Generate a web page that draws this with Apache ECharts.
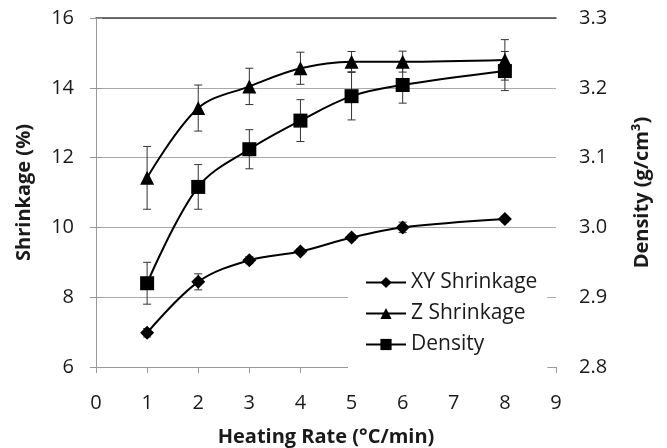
<!DOCTYPE html>
<html>
<head>
<meta charset="utf-8">
<script src="https://cdn.jsdelivr.net/npm/echarts@6/dist/echarts.min.js"></script>
<style>
  html, body { margin: 0; padding: 0; background: #fff; }
  #chart-container { width: 667px; height: 448px; }
</style>
</head>
<body>
<div id="chart-container"></div>
<script>
// heating rate (°C/min)
var rates = [1, 2, 3, 4, 5, 6, 8];
// shrinkage (%) and error bars
var xyShrink = [6.98, 8.44, 9.06, 9.31, 9.71, 10.0, 10.24];
var xyErr = [0.12, 0.23, 0.1, 0.08, 0.08, 0.15, 0.08];
var zShrink = [11.42, 13.42, 14.04, 14.56, 14.75, 14.75, 14.8];
var zErr = [0.9, 0.66, 0.52, 0.46, 0.29, 0.3, 0.58];
// density (g/cm3) and error bars
var density = [2.92, 3.058, 3.112, 3.153, 3.188, 3.204, 3.224];
var densityErr = [0.03, 0.032, 0.028, 0.03, 0.034, 0.026, 0.028];

var leftTicks = { min: 6, max: 16, interval: 2 };
var rightTicks = { min: 2.8, max: 3.3, interval: 0.1 };

var font = "'Open Sans', 'DejaVu Sans', sans-serif";

function pairs(vals) {
  return rates.map(function (x, i) { return [x, vals[i]]; });
}
function errData(vals, errs) {
  return rates.map(function (x, i) { return [x, vals[i], errs[i]]; });
}

function renderErr(params, api) {
  var x = api.value(0), v = api.value(1), e = api.value(2);
  var top = api.coord([x, v + e]);
  var bot = api.coord([x, v - e]);
  var cap = 4;
  var style = { stroke: '#333', lineWidth: 1 };
  return {
    type: 'group',
    children: [
      { type: 'line', shape: { x1: top[0], y1: top[1], x2: bot[0], y2: bot[1] }, style: style },
      { type: 'line', shape: { x1: top[0] - cap, y1: top[1], x2: top[0] + cap, y2: top[1] }, style: style },
      { type: 'line', shape: { x1: bot[0] - cap, y1: bot[1], x2: bot[0] + cap, y2: bot[1] }, style: style }
    ]
  };
}

var dom = document.getElementById('chart-container');
var myChart = echarts.init(dom, null, { renderer: 'canvas' });

var tickLabel = { fontSize: 20, color: '#1a1a1a', fontFamily: font };
var nameStyle = { fontSize: 20, fontWeight: 'bold', color: '#1a1a1a', fontFamily: font };

var option = {
  animation: false,
  backgroundColor: '#fff',
  textStyle: { fontFamily: font },
  grid: { left: 96, right: 111, top: 18, bottom: 81, outerBoundsMode: 'none' },
  legend: {
    data: ['XY Shrinkage', 'Z Shrinkage', 'Density'],
    orient: 'vertical',
    left: 348,
    top: 268,
    width: 205,
    backgroundColor: '#fff',
    padding: [4, 10, 20, 17],
    itemWidth: 40,
    itemHeight: 14,
    itemGap: 10,
    textStyle: { fontSize: 21, color: '#1a1a1a', fontFamily: font }
  },
  xAxis: [
    {
      type: 'value',
      min: 0,
      max: 9,
      interval: 1,
      name: 'Heating Rate (°C/min)',
      nameLocation: 'middle',
      nameGap: 60,
      nameTextStyle: nameStyle,
      axisLine: { show: true, lineStyle: { color: '#999', width: 1 } },
      axisTick: { show: true, length: 6, lineStyle: { color: '#999' } },
      axisLabel: Object.assign({ margin: 26 }, tickLabel),
      splitLine: { show: false }
    },
    {
      type: 'value',
      position: 'top',
      min: 0,
      max: 9,
      axisLine: { show: true, lineStyle: { color: '#444', width: 1.5 } },
      axisTick: { show: false },
      axisLabel: { show: false },
      splitLine: { show: false }
    }
  ],
  yAxis: [
    {
      type: 'value',
      min: leftTicks.min,
      max: leftTicks.max,
      interval: leftTicks.interval,
      name: 'Shrinkage (%)',
      nameLocation: 'middle',
      nameRotate: 90,
      nameGap: 62,
      nameTextStyle: nameStyle,
      axisLine: { show: true, lineStyle: { color: '#999', width: 1 } },
      axisTick: { show: true, length: 6, lineStyle: { color: '#999' } },
      axisLabel: Object.assign({ margin: 22 }, tickLabel),
      splitLine: { show: true, lineStyle: { color: '#aaa', width: 1 } }
    },
    {
      type: 'value',
      min: rightTicks.min,
      max: rightTicks.max,
      interval: rightTicks.interval,
      name: 'Density (g/cm³)',
      nameLocation: 'middle',
      nameRotate: 90,
      nameGap: 76,
      nameTextStyle: nameStyle,
      axisLine: { show: true, lineStyle: { color: '#999', width: 1 } },
      axisTick: { show: true, length: 6, lineStyle: { color: '#999' } },
      axisLabel: Object.assign({
        margin: 23,
        formatter: function (v) { return v.toFixed(1); }
      }, tickLabel),
      splitLine: { show: false }
    }
  ],
  series: [
    {
      type: 'custom',
      name: 'xyErr',
      renderItem: renderErr,
      data: errData(xyShrink, xyErr),
      encode: { x: 0, y: 1 },
      z: 1
    },
    {
      type: 'custom',
      name: 'zErr',
      renderItem: renderErr,
      data: errData(zShrink, zErr),
      encode: { x: 0, y: 1 },
      z: 1
    },
    {
      type: 'custom',
      name: 'densityErr',
      yAxisIndex: 1,
      renderItem: renderErr,
      data: errData(density, densityErr),
      encode: { x: 0, y: 1 },
      z: 1
    },
    {
      type: 'line',
      name: 'XY Shrinkage',
      data: pairs(xyShrink),
      smooth: 0.35,
      symbol: 'diamond',
      symbolSize: 14,
      itemStyle: { color: '#000' },
      lineStyle: { color: '#000', width: 2 },
      z: 3
    },
    {
      type: 'line',
      name: 'Z Shrinkage',
      data: pairs(zShrink),
      smooth: 0.35,
      symbol: 'triangle',
      symbolSize: 14,
      itemStyle: { color: '#000' },
      lineStyle: { color: '#000', width: 2 },
      z: 3
    },
    {
      type: 'line',
      name: 'Density',
      yAxisIndex: 1,
      data: pairs(density),
      smooth: 0.35,
      symbol: 'rect',
      symbolSize: 14,
      itemStyle: { color: '#000' },
      lineStyle: { color: '#000', width: 2 },
      z: 3
    }
  ]
};

myChart.setOption(option);
window.addEventListener('resize', myChart.resize);
</script>
</body>
</html>
